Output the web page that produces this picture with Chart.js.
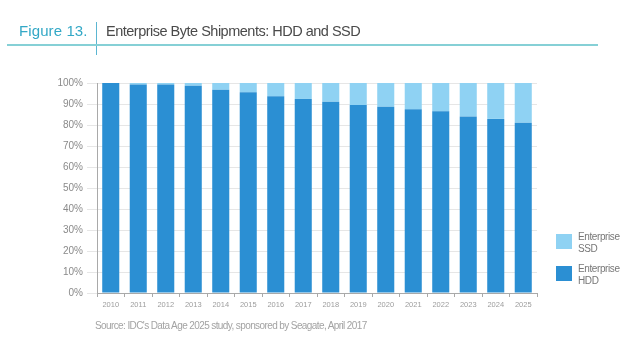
<!DOCTYPE html>
<html>
<head>
	<title>Enterprise Byte Shipments</title>
	<script src="https://cdn.jsdelivr.net/npm/chart.js@4/dist/chart.umd.min.js"></script>
	<style>
		body {
			margin: 0;
			background: #fff;
			font-family: "Liberation Sans", Arial, sans-serif;
		}
		#wrap { position: relative; width: 640px; height: 347px; overflow: hidden; }
		#chart1 { position: absolute; left: 0; top: 0; }
		.fig { position: absolute; left: 19px; top: 22px; font-size: 15px; color: #33a8c6; letter-spacing: 0.1px; }
		.title { position: absolute; left: 106px; top: 23px; font-size: 14.5px; letter-spacing: -0.5px; color: #4a4a4a; }
		.vline { position: absolute; left: 96px; top: 22px; width: 1px; height: 33px; background: #5bb6d2; }
		.hline { position: absolute; left: 7px; top: 44px; width: 591px; height: 2px; background: #86d0d6; }
		.source { position: absolute; left: 95px; top: 320px; font-size: 10px; letter-spacing: -0.6px; color: #a3a3a3; }
		.key { position: absolute; left: 556px; width: 16px; height: 15px; }
		.keytext { position: absolute; left: 578px; font-size: 10px; letter-spacing: -0.4px; line-height: 12px; color: #777; }
	</style>
</head>
<body>
<div id="wrap">
	<canvas id="chart1" width="640" height="347"></canvas>
	<div class="fig">Figure 13.</div>
	<div class="vline"></div>
	<div class="hline"></div>
	<div class="title">Enterprise Byte Shipments: HDD and SSD</div>
	<!-- legend, SSD on top of HDD like the stacking -->
	<div class="key" style="top: 234px; background: #8fd2f3;"></div>
	<div class="keytext" style="top: 231px;">Enterprise<br>SSD</div>
	<div class="key" style="top: 266px; background: #2b8fd3;"></div>
	<div class="keytext" style="top: 263px;">Enterprise<br>HDD</div>
	<div class="source">Source: IDC's Data Age 2025 study, sponsored by Seagate, April 2017</div>
</div>
<script>
	// years along the bottom
	var years = ['2010', '2011', '2012', '2013', '2014', '2015', '2016', '2017',
		'2018', '2019', '2020', '2021', '2022', '2023', '2024', '2025'];
	// share of enterprise bytes shipped, percent
	var hddShare = [100, 99.3, 99.3, 98.7, 96.8, 95.6, 93.7, 92.4, 91.1, 89.5, 88.7, 87.5, 86.5, 84.1, 82.9, 81.1];
	var ssdShare = [0, 0.7, 0.7, 1.3, 3.2, 4.4, 6.3, 7.6, 8.9, 10.5, 11.3, 12.5, 13.5, 15.9, 17.1, 18.9];

	var axisGrey = '#a9a9a9';
	var ctx = document.getElementById('chart1');
	var chart = new Chart(ctx, {
		type: 'bar',
		data: {
			labels: years,
			datasets: [{
				label: 'Enterprise HDD',
				data: hddShare,
				backgroundColor: '#2b8fd3',
				barPercentage: 0.62,
				categoryPercentage: 1
			}, {
				label: 'Enterprise SSD',
				data: ssdShare,
				backgroundColor: '#8fd2f3',
				barPercentage: 0.62,
				categoryPercentage: 1
			}]
		},
		options: {
			responsive: false,
			animation: false,
			layout: { padding: { left: 0, right: 103, top: 83, bottom: 0 } },
			plugins: { legend: { display: false }, tooltip: { enabled: false } },
			scales: {
				x: {
					stacked: true,
					grid: { drawOnChartArea: false, tickLength: 4, color: axisGrey },
					border: { color: axisGrey },
					ticks: { color: '#9d9d9d', font: { size: 7.5, family: 'Liberation Sans' }, padding: 3 },
					afterFit: function (s) { s.height = 54; }
				},
				y: {
					stacked: true,
					min: 0,
					max: 100,
					grid: { color: '#e6e6e6', tickLength: 10 },
					border: { color: axisGrey },
					ticks: {
						stepSize: 10,
						color: '#8a8a8a',
						font: { size: 10, family: 'Liberation Sans' },
						padding: 4,
						callback: function (v) { return v + '%'; }
					},
					afterFit: function (s) { s.width = 97; }
				}
			}
		}
	});
</script>
</body>
</html>
